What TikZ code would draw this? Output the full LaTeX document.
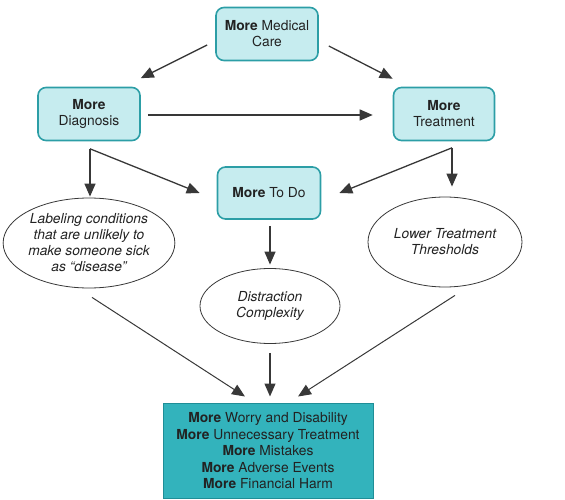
\documentclass[tikz,border=0pt]{standalone}
\usepackage{fontspec}
\setmainfont{TeX Gyre Heros}
\usetikzlibrary{arrows.meta,shapes.geometric,calc}
\definecolor{boxfill}{HTML}{C6ECEF}
\definecolor{boxline}{HTML}{2C9EA6}
\definecolor{harmfill}{HTML}{33B3BC}
\definecolor{harmline}{HTML}{1F8E97}
\definecolor{ink}{HTML}{383838}
\definecolor{txt}{HTML}{222222}
\tikzset{
  lightbox/.style={draw=boxline, fill=boxfill, line width=1.6pt, rounded corners=8pt,
    align=center, text=txt, font=\fontsize{13.8}{16}\selectfont, inner sep=0pt},
  oval/.style={ellipse, draw=ink, fill=white, line width=0.8pt, align=center, text=txt,
    font=\fontsize{13.8}{16}\selectfont\itshape, inner sep=0pt},
  harmbox/.style={draw=harmline, fill=harmfill, line width=1pt, align=center, text=txt,
    font=\fontsize{13.8}{16.5}\selectfont, inner sep=0pt},
  arr/.style={draw=ink, line width=1.3pt, -{Triangle[length=13pt,width=11pt]}, color=ink},
  thinarr/.style={arr, line width=1pt}
}
\begin{document}
\begin{tikzpicture}[x=1pt,y=-1pt]
\useasboundingbox (0,0) rectangle (565,500);
\node[lightbox, minimum width=102pt, minimum height=53pt] (top) at (267,34) {\textbf{More} Medical\\Care};
\node[lightbox, minimum width=102pt, minimum height=53pt] (diag) at (89,114) {\textbf{More}\\Diagnosis};
\node[lightbox, minimum width=101pt, minimum height=53pt] (treat) at (444,114) {\textbf{More}\\Treatment};
\node[lightbox, minimum width=103pt, minimum height=52pt] (todo) at (269,193) {\textbf{More} To Do};
\node[oval, minimum width=165pt, minimum height=90pt] (lab) at (89,243) {Labeling conditions\\that are unlikely to\\make someone sick\\as ``disease''};
\node[oval, minimum width=154pt, minimum height=90pt] (low) at (445,242) {Lower Treatment\\Thresholds};
\node[oval, minimum width=140pt, minimum height=75pt] (dist) at (270,306) {Distraction\\Complexity};
\node[harmbox, minimum width=210pt, minimum height=95pt] (harm) at (268,451) {\textbf{More} Worry and Disability\\\textbf{More} Unnecessary Treatment\\\textbf{More} Mistakes\\\textbf{More} Adverse Events\\\textbf{More} Financial Harm};

\coordinate (df) at ($(diag.south)+(1,7.5)$);
\coordinate (tf) at ($(treat.south)+(8,6.5)$);

\draw[arr] ($(top.west)+(-8,11)$) -- ($(diag.north east)+(0,-8.5)$);
\draw[arr] ($(top.east)+(10,12)$) -- ($(treat.north west)+(0,-8)$);
\draw[arr] ($(diag.east)+(7,1)$) -- ($(treat.west)+(-20,1)$);
\draw[arr] (df) -- ($(lab.north)+(1,-1)$);
\draw[arr] (df) -- ($(todo.west)+(-17,0)$);
\draw[arr] (tf) -- ($(low.north)+(7,-10)$);
\draw[arr] (tf) -- ($(todo.east)+(18,0)$);
\draw[arr] ($(todo.south)+(1,6)$) -- ($(dist.north)+(0,-3.5)$);
\draw[thinarr] ($(lab.south)+(3,9)$) -- ($(harm.north)+(-23,-6.5)$);
\draw[arr] ($(dist.south)+(0,9)$) -- ($(harm.north)+(2,-6.5)$);
\draw[thinarr] ($(low.south)+(10,8)$) -- ($(harm.north)+(30,-6.5)$);
\end{tikzpicture}
\end{document}
